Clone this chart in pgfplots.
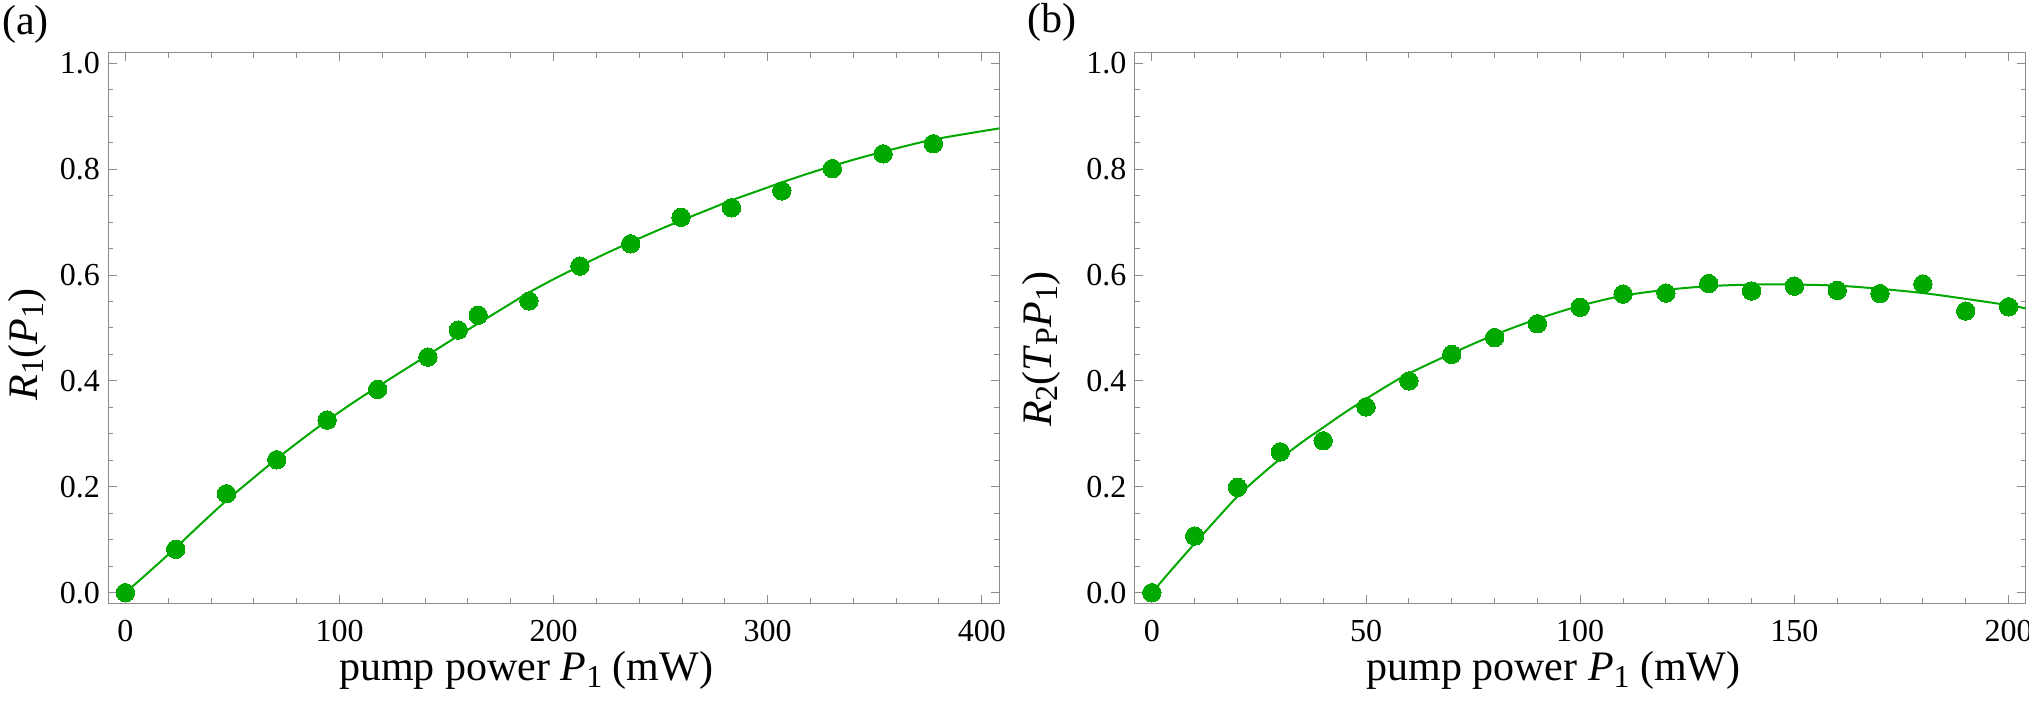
\documentclass[border=0pt]{standalone}
\usepackage{fontspec}
\setmainfont{Liberation Serif}
\usepackage{pgfplots}
\pgfplotsset{compat=1.18}
\definecolor{mgreen}{RGB}{0,168,0}
\definecolor{fgray}{RGB}{140,140,140}
\newcommand{\lsub}[1]{\raisebox{-3.3pt}{\fontsize{16}{16}\selectfont #1}}
\pgfplotsset{myaxis/.style={
  scale only axis, width=445.5pt, height=275.3pt,
  anchor=south west,
  ymin=-0.02, ymax=1.02,
  ytick={0,0.2,0.4,0.6,0.8,1},
  minor y tick num=3,
  minor x tick num=4,
  tick align=inside,
  major tick length=4.2pt, minor tick length=2.5pt,
  axis line style={fgray, line width=0.6pt},
  tick style={fgray, line width=0.5pt},
  /pgf/number format/assume math mode=true,
  ticklabel style={font=\fontsize{16}{16}\selectfont, black},
  xticklabel style={inner sep=0pt, anchor=north, yshift=-8.3pt},
  yticklabel style={inner sep=0pt, anchor=east, xshift=-4pt,
     /pgf/number format/.cd, fixed, fixed zerofill, precision=1},
  label style={font=\fontsize{21}{21}\selectfont},
}}
\begin{document}
\begin{tikzpicture}
\useasboundingbox (0,0) rectangle (1014.5pt,355.5pt);
\begin{axis}[myaxis, at={(54.15pt,53.85pt)},
  xmin=-8, xmax=408.2, xtick={0,100,200,300,400},
  xlabel={pump power \textit{P}\lsub{1} (mW)},
  ylabel={\textit{R}\lsub{1}(\textit{P}\lsub{1})},
  xlabel style={at={(axis description cs:0.469,-0.1411)}, anchor=base},
  ylabel style={at={(axis description cs:-0.0912,0.47)}, anchor=center},
]
\addplot[mgreen, line width=1pt, smooth] coordinates {
(0,0) (11.75,0.042) (23.5,0.085) (35.3,0.130) (47.2,0.174) (59,0.214)
(70.7,0.253) (82.5,0.290) (94.2,0.325) (106,0.358) (117.8,0.389)
(129.5,0.419) (141.3,0.449) (153,0.479) (164.9,0.509) (176.7,0.538)
(188.5,0.567) (200.4,0.593) (212.3,0.617) (224,0.640) (236,0.662)
(247.8,0.683) (259.5,0.703) (271.3,0.722) (283,0.741) (294.8,0.758)
(306.6,0.775) (318.4,0.791) (330.2,0.806) (342,0.820) (354,0.833)
(365.7,0.845) (377.4,0.856) (393,0.867) (408.2,0.877)};
\addplot[mgreen, only marks, mark=*, mark size=4.6pt, mark options={draw=mgreen, fill=mgreen, line width=0pt}] coordinates {
(0,0) (23.5,0.082) (47.2,0.187) (70.7,0.251) (94.2,0.326) (117.8,0.384)
(141.3,0.445) (155.5,0.496) (164.8,0.524) (188.5,0.551) (212.3,0.617)
(236.0,0.659) (259.5,0.709) (283.1,0.727) (306.6,0.759) (330.2,0.801)
(353.9,0.829) (377.4,0.848)};
\end{axis}
\begin{axis}[myaxis, at={(567.35pt,53.85pt)},
  xmin=-4, xmax=204, xtick={0,50,100,150,200},
  xlabel={pump power \textit{P}\lsub{1} (mW)},
  ylabel={\textit{R}\lsub{2}(\textit{T}\lsub{P}\textit{P}\lsub{1})},
  xlabel style={at={(axis description cs:0.470,-0.1411)}, anchor=base},
  ylabel style={at={(axis description cs:-0.1052,0.461)}, anchor=center},
]
\addplot[mgreen, line width=1pt, smooth] coordinates {
(0,0) (5,0.047) (10,0.093) (15,0.138) (20,0.182) (25,0.219) (30,0.253)
(35,0.284) (40,0.312) (45,0.340) (50,0.366) (55,0.391) (60,0.414)
(70,0.452) (80,0.487) (90,0.517) (100,0.542) (110,0.561) (120,0.572)
(130,0.579) (140,0.582) (150,0.582) (160,0.580) (170,0.574) (180,0.566)
(190,0.555) (200,0.543) (204,0.537)};
\addplot[mgreen, only marks, mark=*, mark size=4.6pt, mark options={draw=mgreen, fill=mgreen, line width=0pt}] coordinates {
(0,0) (10,0.107) (20,0.199) (30,0.266) (40,0.287) (50,0.351) (60,0.400)
(70,0.450) (80,0.482) (90,0.508) (100,0.539) (110,0.564) (120,0.566)
(130,0.584) (140,0.570) (150,0.579) (160,0.571) (170,0.565) (180,0.583)
(190,0.532) (200,0.540)};
\end{axis}
\node[font=\fontsize{21}{21}\selectfont] at (12.75pt,343.5pt) {(a)};
\node[font=\fontsize{21}{21}\selectfont] at (525.85pt,344.5pt) {(b)};
\end{tikzpicture}
\end{document}
